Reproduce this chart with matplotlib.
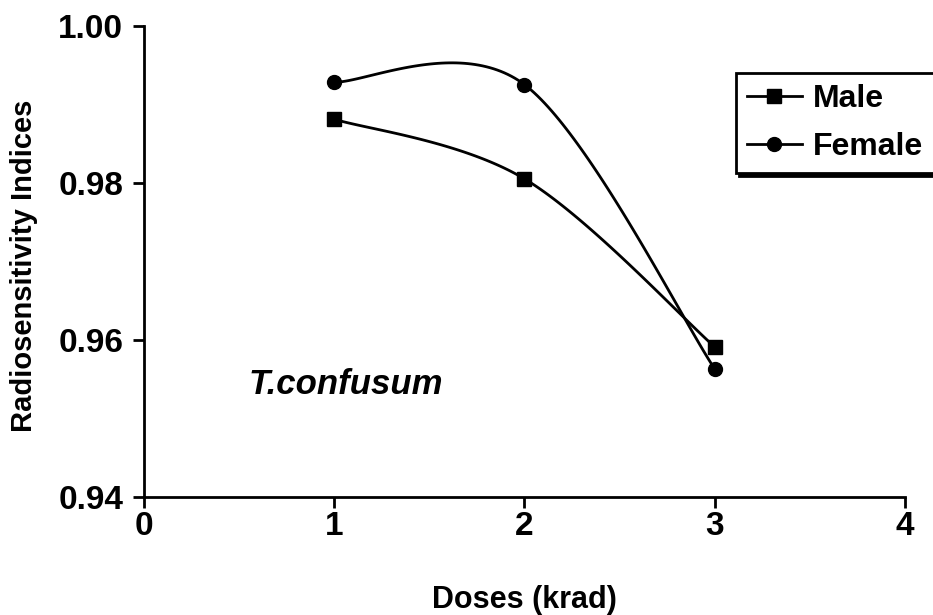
import numpy as np
import matplotlib
matplotlib.use("Agg")
import matplotlib.pyplot as plt

doses = [1, 2, 3]
male = [0.9881, 0.9805, 0.9591]
female = [0.9928, 0.9925, 0.9563]
x_ticks = [0, 1, 2, 3, 4]
y_ticks = [0.94, 0.96, 0.98, 1.00]


def smooth(xs, ys, n=60):
    # Excel-like smoothed line: cubic Bezier with Catmull-Rom style control points
    p = np.column_stack([xs, ys]).astype(float)
    out = []
    for i in range(len(p) - 1):
        p0 = p[i - 1] if i > 0 else p[i]
        p1, p2 = p[i], p[i + 1]
        p3 = p[i + 2] if i + 2 < len(p) else p[i + 1]
        c1 = p1 + (p2 - p0) / 6
        c2 = p2 - (p3 - p1) / 6
        t = np.linspace(0, 1, n)[:, None]
        seg = ((1 - t) ** 3) * p1 + 3 * ((1 - t) ** 2) * t * c1 + 3 * (1 - t) * t ** 2 * c2 + t ** 3 * p2
        out.append(seg)
    out = np.vstack(out)
    return out[:, 0], out[:, 1]


plt.rcParams['font.family'] = ['Liberation Sans', 'DejaVu Sans']
plt.rcParams['font.weight'] = 'bold'

fig = plt.figure(figsize=(9.33, 6.15), dpi=100)
ax = fig.add_axes([0.1543, 0.1919, 0.8157, 0.7663])

sx, sy = smooth(doses, male)
ax.plot(sx, sy, color='black', lw=2)
ax.plot(doses, male, ls='none', marker='s', ms=10, color='black')
sx, sy = smooth(doses, female)
ax.plot(sx, sy, color='black', lw=2)
ax.plot(doses, female, ls='none', marker='o', ms=10, color='black')

# legend proxies
ax.plot([], [], color='black', lw=2, marker='s', ms=10, label='Male')
ax.plot([], [], color='black', lw=2, marker='o', ms=10, label='Female')

ax.set_xlim(0, 4)
ax.set_ylim(0.94, 1.00)
ax.set_xticks(x_ticks)
ax.set_yticks(y_ticks)
ax.set_yticklabels([f"{v:.2f}" for v in y_ticks])
ax.tick_params(axis='both', labelsize=24, length=8, width=2, direction='out')
ax.tick_params(axis='x', pad=2)
ax.tick_params(axis='y', pad=7)
ax.spines['top'].set_visible(False)
ax.spines['right'].set_visible(False)
ax.spines['left'].set_linewidth(2)
ax.spines['bottom'].set_linewidth(2)

ax.set_xlabel("Doses (krad)", fontsize=22, fontweight='bold', va='center')
ax.xaxis.set_label_coords(0.5, -0.218)
ax.set_ylabel("Radiosensitivity Indices", fontsize=21, fontweight='bold', va='center')
ax.yaxis.set_label_coords(-0.158, 0.49)

ax.text(1.06, 0.9543, "T.confusum", fontsize=25, fontweight='bold', style='italic',
        ha='center', va='center')

leg = ax.legend(
    loc='upper left', bbox_to_anchor=(0.789, 0.881), bbox_transform=fig.transFigure,
    fontsize=23, frameon=True, fancybox=False, handlelength=1.7, handletextpad=0.35,
    borderpad=0.35, labelspacing=0.55, borderaxespad=0,
    shadow={'color': 'black', 'alpha': 1.0})
leg.get_frame().set_edgecolor('black')
leg.get_frame().set_linewidth(2)
leg.get_frame().set_alpha(1.0)

fig.savefig("out.png", dpi=100)
